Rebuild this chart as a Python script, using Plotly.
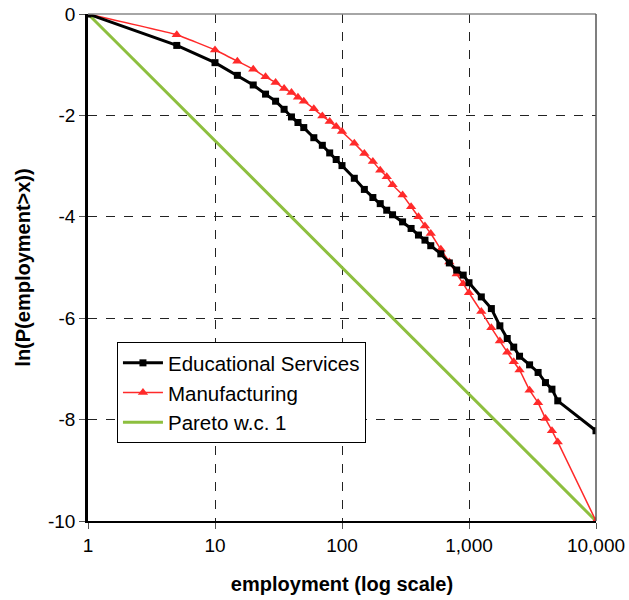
import plotly.graph_objects as go

employment = [1, 5, 10, 15, 20, 25, 30, 35, 40, 45, 50, 60, 70, 80, 90, 100,
              125, 150, 175, 200, 225, 250, 300, 350, 400, 450, 500, 600, 700,
              800, 900, 1000, 1250, 1500, 1750, 2000, 2250, 2500, 3000, 3500,
              4000, 4500, 5000, 10000]

educational = [0, -0.62, -0.96, -1.21, -1.40, -1.58, -1.72, -1.88, -2.03, -2.14,
               -2.24, -2.44, -2.59, -2.74, -2.87, -2.99, -3.24, -3.46, -3.62,
               -3.74, -3.87, -3.96, -4.10, -4.23, -4.36, -4.46, -4.57, -4.73,
               -4.91, -5.05, -5.15, -5.30, -5.58, -5.81, -6.15, -6.40, -6.57,
               -6.75, -6.92, -7.07, -7.27, -7.40, -7.63, -8.22]

manufacturing = [0, -0.41, -0.71, -0.93, -1.09, -1.24, -1.35, -1.47, -1.55, -1.64,
                 -1.72, -1.87, -2.01, -2.12, -2.22, -2.32, -2.55, -2.75, -2.91,
                 -3.08, -3.21, -3.37, -3.57, -3.80, -4.00, -4.18, -4.33, -4.64,
                 -4.89, -5.13, -5.32, -5.50, -5.87, -6.19, -6.45, -6.67, -6.86,
                 -7.02, -7.42, -7.67, -7.98, -8.22, -8.44, -10.0]

pareto_x = [1, 10000]
pareto_y = [0, -10]

x_tickvals = [1, 10, 100, 1000, 10000]
x_ticktext = ["1", "10", "100", "1,000", "10,000"]
y_tickvals = [0, -2, -4, -6, -8, -10]
y_ticktext = ["0", "-2", "-4", "-6", "-8", "-10"]

FONT = "Liberation Sans, Arial, sans-serif"

fig = go.Figure()
fig.add_trace(go.Scatter(
    x=pareto_x, y=pareto_y, mode="lines", name="Pareto w.c. 1",
    line=dict(color="#8DBF3F", width=3), legendrank=3,
))
fig.add_trace(go.Scatter(
    x=employment, y=manufacturing, mode="lines+markers", name="Manufacturing",
    line=dict(color="#FF2A2A", width=1.5, shape="spline", smoothing=0.3),
    marker=dict(symbol="triangle-up", size=9, color="#FF2A2A"), legendrank=2,
))
fig.add_trace(go.Scatter(
    x=employment, y=educational, mode="lines+markers", name="Educational Services",
    line=dict(color="black", width=3),
    marker=dict(symbol="square", size=7, color="black"), legendrank=1,
))

fig.update_layout(
    width=629, height=600,
    margin=dict(l=88, r=33, t=14, b=79),
    plot_bgcolor="white", paper_bgcolor="white",
    font=dict(family=FONT, size=19, color="black"),
    showlegend=True,
    legend=dict(
        x=0.057, y=0.353, xanchor="left", yanchor="top",
        bgcolor="white", bordercolor="black", borderwidth=1,
        font=dict(family=FONT, size=20.5, color="black"),
        traceorder="normal", tracegroupgap=10, itemwidth=40,
    ),
    xaxis=dict(
        type="log", range=[0, 4], automargin=False, ticklabeloverflow="allow",
        tickvals=x_tickvals, ticktext=x_ticktext,
        showgrid=True, gridcolor="#222222", griddash="dash", gridwidth=1,
        showline=True, linecolor="black", linewidth=2,
        ticks="outside", ticklen=6, tickcolor="#555555",
        title=dict(text="<b>employment (log scale)</b>", font=dict(size=20), standoff=22),
        zeroline=False,
    ),
    yaxis=dict(
        range=[-10, 0], automargin=False, ticklabeloverflow="allow",
        tickvals=y_tickvals, ticktext=y_ticktext,
        showgrid=True, gridcolor="#222222", griddash="dash", gridwidth=1,
        showline=True, linecolor="black", linewidth=2.5,
        ticks="outside", ticklen=6, tickcolor="#555555",
        title=dict(text="<b>ln(P(employment>x))</b>", font=dict(size=20), standoff=12),
        zeroline=False,
    ),
    shapes=[
        dict(type="line", xref="paper", yref="paper", x0=0, x1=1, y0=1, y1=1,
             line=dict(color="#888888", width=1.5)),
        dict(type="line", xref="paper", yref="paper", x0=1, x1=1, y0=0, y1=1,
             line=dict(color="#555555", width=1.5)),
    ],
)

fig.write_html("out.html",
               config={"displayModeBar": False},
               post_script="document.body.style.margin='0';document.body.style.overflow='hidden';")
